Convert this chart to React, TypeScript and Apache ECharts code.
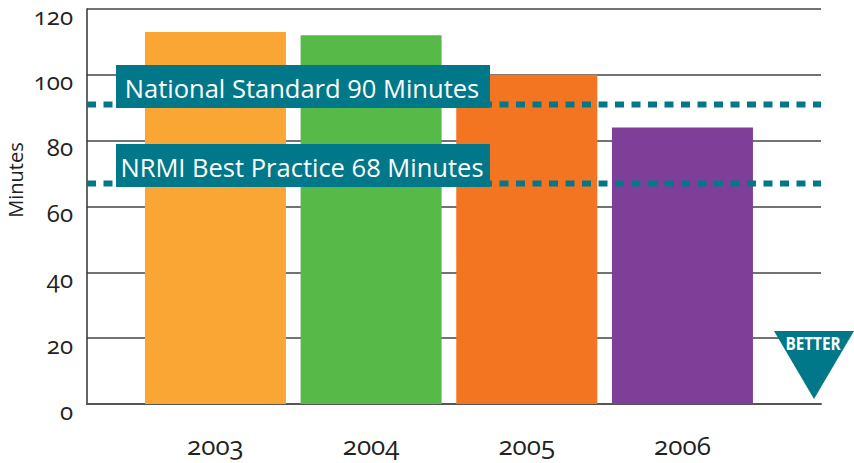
import React, { useEffect, useRef } from "react";
import * as echarts from "echarts";

const years = [2003, 2004, 2005, 2006];
const minutes = [113, 112, 100, 84];
const barColors = ["#FAA634", "#57B947", "#F47521", "#7F3F98"];
const yTicks = [0, 20, 40, 60, 80, 100, 120];
const nationalLine = 91;
const bestLine = 67;
const nationalLabel = "National Standard 90 Minutes";
const bestLabel = "NRMI Best Practice 68 Minutes";
const betterLabel = "BETTER";
const axisName = "Minutes";
const xMin = 2002.175;
const xMax = 2006.89;

const TEAL = "#00788A";
const FONT = '"Open Sans", "Noto Sans", sans-serif';

function refLine(value: number) {
  return {
    type: "line",
    data: [[xMin, value], [xMax, value]],
    showSymbol: false,
    symbol: "none",
    silent: true,
    z: 5,
    lineStyle: { color: TEAL, width: 6, type: [9, 7.5] },
  };
}

function noteBox(y: number, text: string) {
  return [
    { type: "rect", z: 100, shape: { x: 116, y, width: 374, height: 43 }, style: { fill: TEAL } },
    {
      type: "text", z: 101, x: 302, y: y + 23,
      style: { text, fill: "#fff", font: `25.5px ${FONT}`, align: "center", verticalAlign: "middle" },
    },
  ];
}

export default function App() {
  const ref = useRef<HTMLDivElement>(null);
  useEffect(() => {
    const chart = echarts.init(ref.current!, null, { renderer: "svg" });
    chart.setOption({
      animation: false,
      backgroundColor: "#fff",
      grid: { left: 87, top: 9, width: 734, height: 395, containLabel: false, outerBoundsMode: "none" },
      xAxis: {
        type: "value", min: xMin, max: xMax,
        splitLine: { show: false },
        axisTick: { show: false },
        axisLine: { show: true, onZero: false, lineStyle: { color: "#555", width: 2 } },
        axisLabel: {
          customValues: years,
          formatter: (v: number) => String(v),
          color: "#222", fontFamily: FONT, fontSize: 26, margin: 28,
        },
      },
      yAxis: {
        type: "value", min: 0, max: 120, interval: 20,
        axisLine: { show: true, lineStyle: { color: "#333", width: 1.5 } },
        axisTick: { show: false },
        splitLine: { show: true, lineStyle: { color: "#444", width: 1.5 } },
        axisLabel: {
          customValues: yTicks,
          color: "#222", fontFamily: FONT, fontSize: 24, margin: 14,
          verticalAlign: "top", lineHeight: 12,
        },
      },
      series: [
        {
          type: "bar", barWidth: 141, z: 3,
          data: years.map((y, i) => ({ value: [y, minutes[i]], itemStyle: { color: barColors[i] } })),
        },
        refLine(nationalLine),
        refLine(bestLine),
      ],
      graphic: [
        {
          type: "text", z: 101, x: 15, y: 180, rotation: Math.PI / 2,
          style: { text: axisName, fill: "#222", font: `20px ${FONT}`, align: "center", verticalAlign: "middle" },
        },
        ...noteBox(65, nationalLabel),
        ...noteBox(144, bestLabel),
        { type: "polygon", z: 100, shape: { points: [[774, 331], [854, 331], [814, 399]] }, style: { fill: TEAL } },
        {
          type: "text", z: 101, x: 813, y: 343, scaleX: 0.85,
          style: { text: betterLabel, fill: "#fff", font: `bold 18px ${FONT}`, align: "center", verticalAlign: "middle" },
        },
      ],
    });
    return () => chart.dispose();
  }, []);
  return (
    <>
      <style>{`text { font-variant-numeric: oldstyle-nums; font-feature-settings: "onum" 1; }`}</style>
      <div ref={ref} style={{ position: "fixed", left: 0, top: 0, width: 854, height: 463 }} />
    </>
  );
}
